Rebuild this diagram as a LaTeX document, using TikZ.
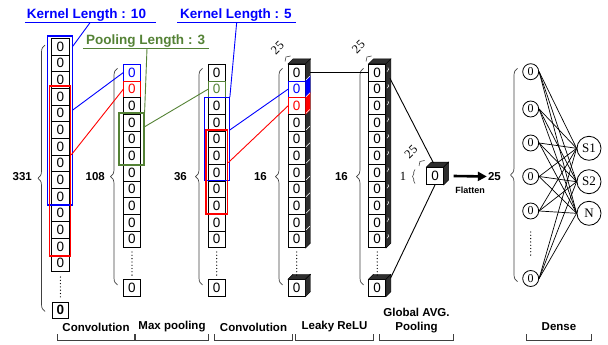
\documentclass[tikz,border=0pt]{standalone}
\usepackage{fontspec}
\setmainfont{Liberation Sans}
\newfontfamily\serf{Liberation Serif}
\usetikzlibrary{calc,decorations.pathreplacing,arrows.meta}
\definecolor{kblue}{RGB}{0,0,255}
\definecolor{kred}{RGB}{255,0,0}
\definecolor{kgreen}{RGB}{84,130,53}
\newcommand\dfaces[2]{%
  \filldraw[face] (#1.north west) -- ++(5,-5) -- ($(#1.north east)+(5,-5)$) -- (#1.north east) -- cycle;
  \filldraw[face] (#1.north east) -- ++(5,-5) -- ($(#2.south east)+(5,-5)$) -- (#2.south east) -- cycle;}
\newcommand\lyrbrk[1]{%
  \draw[brk] (#1.west |- 0,334) -- (#1.west |- 0,340) -- (#1.east |- 0,340) -- (#1.east |- 0,334);}
\begin{document}
\begin{tikzpicture}[x=1pt,y=-1pt,
  cell/.style={draw, fill=white, line width=0.8pt, minimum width=16.7pt, minimum height=16.67pt, inner sep=0pt, font=\fontsize{13.5}{13.5}\selectfont},
  bcell/.style={cell, draw=kblue, text=kblue},
  rcell/.style={cell, draw=kred, text=kred},
  gcell/.style={cell, draw=kgreen, text=kgreen},
  face/.style={fill=black!82, draw=black, line width=0.4pt},
  brc/.style={draw=black!75, line width=0.7pt, decorate, decoration={brace, amplitude=7pt}},
  sbrc/.style={draw=black!75, line width=0.6pt, decorate, decoration={brace, amplitude=2.5pt}},
  cnt/.style={font=\bfseries\fontsize{11.5}{11.5}\selectfont, inner sep=1pt},
  dep/.style={font=\serf\fontsize{12.5}{12.5}\selectfont, rotate=45, inner sep=0pt},
  kbox/.style={draw, line width=1.1pt, inner sep=0pt},
  klab/.style={font=\bfseries\fontsize{13.5}{13.5}\selectfont, inner sep=0pt},
  lyr/.style={font=\bfseries\fontsize{11.5}{14}\selectfont, inner sep=0pt, align=center},
  brk/.style={draw=black!75, line width=0.7pt},
  dots/.style={line width=1.3pt, dash pattern=on 0pt off 3.3pt, line cap=round},
  inn/.style={circle, draw, line width=0.8pt, minimum size=16pt, inner sep=0pt, font=\serf\fontsize{12}{12}\selectfont},
  outn/.style={circle, draw, line width=0.8pt, minimum size=24pt, inner sep=0pt, font=\serf\fontsize{13}{13}\selectfont},
]
\useasboundingbox (0,0) rectangle (608,345);

% ---------- column 1 (331)
\foreach \k in {0,...,13}
  \node[cell, minimum width=17.3pt] (c1-\k) at (60.4,{46.63+16.67*\k}) {0};
\node[cell, minimum width=16pt, minimum height=16pt, font=\bfseries\fontsize{13.5}{13.5}\selectfont] (c1-L) at (60.4,310) {0};
\draw[dots] (60.4,277) -- (60.4,298);
\draw[brc] (45,311.5) -- (45,45);
\node[cnt, anchor=east] (n331) at (33,176.5) {331};

% ---------- column 2 (108)
\node[bcell] (c2-0) at (132,72.6) {0};
\node[rcell] (c2-1) at (132,89.27) {0};
\foreach \k in {2,...,10}
  \node[cell] (c2-\k) at (132,{72.6+16.67*\k}) {0};
\node[cell] (c2-L) at (132,288) {0};
\draw[dots] (132,252) -- (132,276);
\draw[brc] (117.5,285) -- (117.5,68.3);
\node[cnt, anchor=east] (n108) at (106,176.5) {108};

% ---------- column 3 (36)
\node[cell] (c3-0) at (216.7,72.6) {0};
\node[gcell] (c3-1) at (216.7,89.27) {0};
\foreach \k in {2,...,10}
  \node[cell] (c3-\k) at (216.7,{72.6+16.67*\k}) {0};
\node[cell] (c3-L) at (216.7,288) {0};
\draw[dots] (216.7,252) -- (216.7,276);
\draw[brc] (202.5,285) -- (202.5,68.3);
\node[cnt, anchor=east] (n36) at (188,176.5) {36};

% ---------- column 4 (16, conv)
\node[cell] (c4-0) at (296.7,72.6) {0};
\node[bcell] (c4-1) at (296.7,89.27) {0};
\node[rcell] (c4-2) at (296.7,105.94) {0};
\foreach \k in {3,...,10}
  \node[cell] (c4-\k) at (296.7,{72.6+16.67*\k}) {0};
\node[cell] (c4-L) at (296.7,288) {0};
\dfaces{c4-0}{c4-10}
\fill[kblue] (c4-1.north east) -- ++(5,-5) -- ($(c4-1.south east)+(5,-5)$) -- (c4-1.south east) -- cycle;
\fill[kred] (c4-2.north east) -- ++(5,-5) -- ($(c4-2.south east)+(5,-5)$) -- (c4-2.south east) -- cycle;
\foreach \k in {1,...,10}
  \draw[white, line width=0.5pt] ($(c4-\k.north east)+(0.6,-0.6)$) -- ++(3.8,-3.8);
\dfaces{c4-L}{c4-L}
\draw[dots] (296.7,252) -- (296.7,276);
\draw[brc] (282.5,285) -- (282.5,68.3);
\node[cnt, anchor=east] (n16a) at (268,176.5) {16};
\draw[sbrc] (285,61.5) -- (290.5,56);
\node[dep] (d25a) at (277.5,48) {25};

% ---------- column 5 (16, leaky relu)
\foreach \k in {0,...,10}
  \node[cell] (c5-\k) at (377.2,{72.6+16.67*\k}) {0};
\node[cell] (c5-L) at (377.2,288) {0};
\dfaces{c5-0}{c5-10}
\foreach \k in {0,...,10}
  \draw[white, line width=0.5pt] ($(c5-\k.east)+(1,-1)$) .. controls ($(c5-\k.east)+(3,-3)$) .. ($(c5-\k.east)+(2,-5)$);
\dfaces{c5-L}{c5-L}
\draw[dots] (377.2,252) -- (377.2,276);
\draw[brc] (363.5,285) -- (363.5,68.3);
\node[cnt, anchor=east] (n16b) at (349,176.5) {16};
\draw[sbrc] (366,61.5) -- (371.5,56);
\node[dep] (d25b) at (358.5,47) {25};

% ---------- global average pooling cube
\node[cell, minimum width=16.5pt, minimum height=17pt] (cube) at (435,176) {0};
\dfaces{cube}{cube}
\draw[sbrc] (419,166) -- (424.5,160.5);
\node[dep] (d25c) at (411,152) {25};
\draw[sbrc] (415,183.5) -- (415,169.5);
\node[font=\serf\fontsize{12.5}{12.5}\selectfont, inner sep=0pt] (n1) at (403,176.5) {1};

% ---------- kernel / pooling windows
\node[kbox, draw=kblue, minimum width=24.6pt, minimum height=169pt] (kb1) at (60,120.5) {};
\node[kbox, draw=kred, minimum width=21.4pt, minimum height=170pt] (kr1) at (60,171) {};
\node[kbox, draw=kgreen, line width=1.2pt, minimum width=25pt, minimum height=52pt] (gb) at (131.5,139) {};
\node[kbox, draw=kblue, minimum width=25pt, minimum height=83pt] (kb3) at (216.8,139.2) {};
\node[kbox, draw=kred, minimum width=21.7pt, minimum height=84pt] (kr3) at (216.85,172) {};

% ---------- labels on top
\node[klab, text=kblue, anchor=base] (k10) at (86.5,18.3) {Kernel Length : 10};
\draw[kblue, line width=1pt] ($(k10.base west)+(-2,4.4)$) -- ($(k10.base east)+(10,4.4)$);
\draw[kblue, line width=0.9pt] ($(k10.base)+(3.5,4.4)$) -- ($(kb1.north east)!0.063!(kb1.south east)$);
\node[klab, text=kgreen, anchor=base] (p3) at (145.5,45) {Pooling Length : 3};
\draw[kgreen, line width=1pt] ($(p3.base west)+(-3,3.3)$) -- ($(p3.base east)+(4,3.3)$);
\draw[kgreen, line width=0.9pt] ($(p3.base)+(1.5,3.3)$) -- (gb.north east);
\node[klab, text=kblue, anchor=base] (k5) at (236,18.3) {Kernel Length : 5};
\draw[kblue, line width=1pt] ($(k5.base west)+(-3,4)$) -- ($(k5.base east)+(4,4)$);
\draw[kblue, line width=0.9pt] ($(k5.base)+(0.7,4)$) -- (kb3.north east);

% ---------- connectors between columns
\draw[kblue, line width=0.9pt] ($(kb1.north east)!0.438!(kb1.south east)$) -- (c2-0.west);
\draw[kred, line width=0.9pt] ($(kr1.north east)!0.406!(kr1.south east)$) -- (c2-1.west);
\draw[kgreen, line width=0.9pt] ($(gb.north east)!0.27!(gb.south east)$) -- (c3-1.west);
\draw[kblue, line width=0.9pt] ($(kb3.north east)!0.39!(kb3.south east)$) -- (c4-1.west);
\draw[kred, line width=0.9pt] ($(kr3.north east)!0.39!(kr3.south east)$) -- (c4-2.west);
\draw[line width=0.9pt] ($(c4-0.east)+(5,0)$) -- (c5-0.west);
\draw[line width=0.9pt] ($(c5-0.south east)+(4,-3)$) -- ($(cube.north)+(-1.5,-4)$);
\draw[line width=0.9pt] ($(c5-L.north east)+(4.5,-1)$) -- (cube.south);

% ---------- flatten + dense
\node[cnt, anchor=east] (n25) at (502,176.5) {25};
\draw[line width=2.6pt, -{Triangle[length=9pt,width=9pt]}] ($(cube.east)+(10,0)$) -- (n25.west);
\node[font=\bfseries\fontsize{9}{9}\selectfont, inner sep=0pt] (fl) at (470,190) {Flatten};
\draw[brc] (517.5,281.7) -- (517.5,68.3);
\node[inn] (d0) at (530.7,71.7) {0};
\node[inn] (d1) at (530.7,109) {0};
\node[inn] (d2) at (530.7,143) {0};
\node[inn] (d3) at (530.7,176.5) {0};
\node[inn] (d4) at (530.7,211) {0};
\node[inn] (d5) at (530.7,278.5) {0};
\draw[dots] (530.7,232) -- (530.7,256);
\node[outn] (s1) at (589,148.3) {S1};
\node[outn] (s2) at (589,181.7) {S2};
\node[outn] (sn) at (589,213.3) {N};
\foreach \i in {0,...,5}
  \foreach \o in {s1,s2,sn}
    \draw[line width=0.7pt] (d\i.east) -- (\o.west);

% ---------- layer names
\node[lyr, minimum width=76pt] (L1) at (96,327) {Convolution};
\node[lyr, minimum width=72pt] (L2) at (172,327) {Max pooling};
\node[lyr, minimum width=77pt] (L3) at (253.5,327) {Convolution};
\node[lyr, minimum width=77pt] (L4) at (334.5,327) {Leaky ReLU};
\node[lyr, minimum width=73pt] (L5) at (416.5,320.5) {Global AVG.\\Pooling};
\node[lyr, minimum width=64pt] (L6) at (559,327) {Dense};
\lyrbrk{L1}\lyrbrk{L2}\lyrbrk{L3}\lyrbrk{L4}\lyrbrk{L5}\lyrbrk{L6}
\end{tikzpicture}
\end{document}
